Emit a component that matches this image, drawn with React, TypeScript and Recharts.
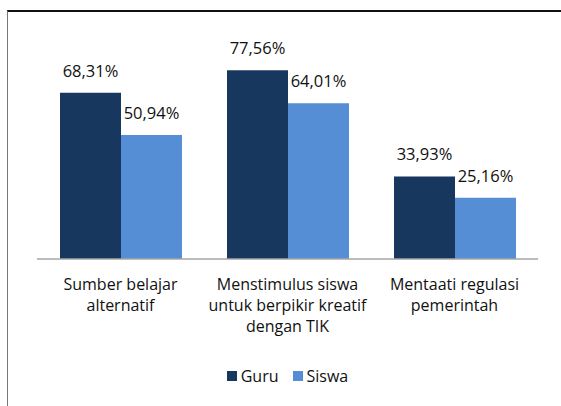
import { BarChart, Bar, XAxis, YAxis, Legend, LabelList } from "recharts";

const categories = [
  ["Sumber belajar", "alternatif"],
  ["Menstimulus siswa", "untuk berpikir kreatif", "dengan TIK"],
  ["Mentaati regulasi", "pemerintah"],
];
const guru = [68.31, 77.56, 33.93];
const siswa = [50.94, 64.01, 25.16];

const data = categories.map((c, i) => ({
  name: c.join(" "),
  lines: c,
  guru: guru[i],
  siswa: siswa[i],
}));

const FONT = "'Open Sans', sans-serif";
const GURU = "#17375E";
const SISWA = "#558ED5";

const fmt = (v: number) => v.toFixed(2).replace(".", ",") + "%";

const CatTick = (props: any) => {
  const { x, y, payload } = props;
  const item = data[payload.index] || data.find((d) => d.name === payload.value);
  const lines = item ? item.lines : [payload.value];
  return (
    <text x={x} y={y} textAnchor="middle" fontFamily={FONT} fontSize={16} fill="#111">
      {lines.map((l: string, i: number) => (
        <tspan key={i} x={x} y={y + 23 + i * 21}>
          {l}
        </tspan>
      ))}
    </text>
  );
};

const renderLegend = () => (
  <div
    style={{
      height: 60,
      display: "flex",
      justifyContent: "center",
      alignItems: "center",
      fontFamily: FONT,
      fontSize: 16,
      color: "#111",
    }}
  >
    {[
      ["Guru", GURU],
      ["Siswa", SISWA],
    ].map(([n, c]) => (
      <span key={n} style={{ display: "flex", alignItems: "center", margin: "0 7px" }}>
        <span style={{ width: 10, height: 10, background: c, marginRight: 4, display: "inline-block" }} />
        {n}
      </span>
    ))}
  </div>
);

export default function App() {
  return (
    <div style={{ position: "absolute", left: 0, top: 0, width: 561, height: 406, background: "#fff" }}>
      <div
        style={{
          position: "absolute",
          left: 7,
          top: 10,
          width: 554,
          height: 396,
          borderTop: "2px solid #111",
          borderLeft: "1px solid #777",
          boxSizing: "border-box",
        }}
      />
      <BarChart
        width={561}
        height={406}
        data={data}
        margin={{ top: 40, right: 23, left: 37, bottom: 0 }}
        barCategoryGap={23}
        barGap={0}
      >
        <XAxis
          dataKey="name"
          axisLine={{ stroke: "#a6a6a6", strokeWidth: 1.5 }}
          tickLine={false}
          tick={<CatTick />}
          height={87}
          interval={0}
        />
        <YAxis hide domain={[0, 90]} />
        <Legend verticalAlign="bottom" height={60} content={renderLegend} />
        <Bar dataKey="guru" name="Guru" fill={GURU} isAnimationActive={false}>
          <LabelList dataKey="guru" position="top" offset={16} formatter={fmt} fontFamily={FONT} fontSize={16.5} fill="#111" />
        </Bar>
        <Bar dataKey="siswa" name="Siswa" fill={SISWA} isAnimationActive={false}>
          <LabelList dataKey="siswa" position="top" offset={16} formatter={fmt} fontFamily={FONT} fontSize={16.5} fill="#111" />
        </Bar>
      </BarChart>
    </div>
  );
}
